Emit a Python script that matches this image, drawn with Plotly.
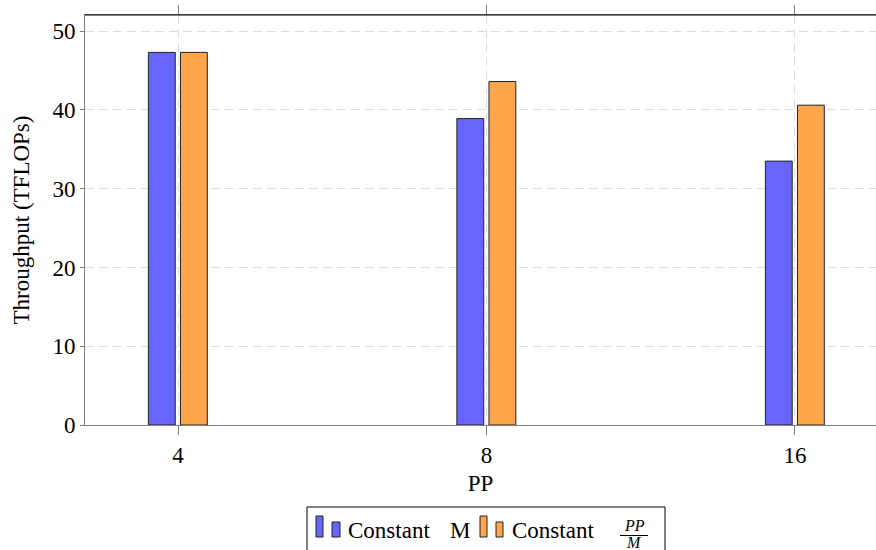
import plotly.graph_objects as go

# Pipeline-parallel sizes and measured throughput (TFLOPs)
pp_sizes = ["4", "8", "16"]
const_m = [47.3, 38.9, 33.5]
const_pp_over_m = [47.3, 43.6, 40.6]

W, H = 876, 550
L, R, T, B = 85, 0, 15, 125
PW, PH = W - L - R, H - T - B

FONT = "Liberation Serif, Times New Roman, serif"
BLUE = "#6666FF"
ORANGE = "#FFA64D"
GRID = "#dcdcdc"
AXIS = "#808080"


def px(x):
    return (x - L) / PW


def py(y):
    return (H - B - y) / PH


xpos = list(range(len(pp_sizes)))

fig = go.Figure()
fig.add_trace(go.Bar(
    x=xpos, y=const_m, name="Constant M",
    width=0.087, offset=-0.096,
    marker=dict(color=BLUE, line=dict(color="#222222", width=1)),
    showlegend=False,
))
fig.add_trace(go.Bar(
    x=xpos, y=const_pp_over_m, name="Constant PP/M",
    width=0.087, offset=0.008,
    marker=dict(color=ORANGE, line=dict(color="#222222", width=1)),
    showlegend=False,
))

fig.update_layout(
    width=W, height=H,
    margin=dict(l=L, r=R, t=T, b=B, pad=0),
    plot_bgcolor="white", paper_bgcolor="white",
    font=dict(family=FONT, size=24, color="black"),
    barmode="overlay",
    xaxis=dict(
        range=[-0.3015, 2.2626],
        tickmode="array", tickvals=xpos, ticktext=pp_sizes,
        showgrid=True, gridcolor=GRID, griddash="9px,5px", gridwidth=1,
        showline=True, linecolor=AXIS, linewidth=1,
        ticks="outside", ticklen=9, tickcolor=AXIS, tickwidth=1,
        mirror="ticks", zeroline=False,
        tickfont=dict(family=FONT, size=23),
        title=dict(text="PP", font=dict(family=FONT, size=23), standoff=8),
    ),
    yaxis=dict(
        range=[0, 52.05],
        tickmode="array", tickvals=[0, 10, 20, 30, 40, 50],
        showgrid=True, gridcolor=GRID, griddash="9px,5px", gridwidth=1,
        showline=True, linecolor=AXIS, linewidth=1,
        ticks="outside", ticklen=4, tickcolor=AXIS, tickwidth=1,
        zeroline=False,
        tickfont=dict(family=FONT, size=23),
        title=dict(text="Throughput (TFLOPs)", font=dict(family=FONT, size=23), standoff=16),
    ),
)

# Black top frame line over the mirrored axis line
fig.add_shape(type="line", xref="paper", yref="paper",
              x0=0, x1=1.01, y0=1, y1=1,
              line=dict(color="black", width=1.2))

# Legend box below the axis
fig.add_shape(type="rect", xref="paper", yref="paper",
              x0=px(307), x1=px(665), y0=py(565), y1=py(507),
              line=dict(color="black", width=1), fillcolor="white")

# Legend bar icons: (left, right, top) in pixels, bottom shared
icons = [
    (316, 323, 516, BLUE), (332, 340, 522, BLUE),
    (480, 487, 516, ORANGE), (496, 503, 522, ORANGE),
]
for x0, x1, top, col in icons:
    fig.add_shape(type="rect", xref="paper", yref="paper",
                  x0=px(x0), x1=px(x1), y0=py(537), y1=py(top),
                  line=dict(color="#222222", width=1), fillcolor=col)


def label(text, x, y, size=23, anchor="left"):
    fig.add_annotation(text=text, xref="paper", yref="paper",
                       x=px(x), y=py(y), xanchor=anchor, yanchor="middle",
                       showarrow=False, font=dict(family=FONT, size=size, color="black"))


label("Constant", 346, 530)
label("M", 472, 530, anchor="right")
label("Constant", 510, 530)
# PP over M fraction
label("<i>PP</i>", 634, 525, size=16, anchor="center")
fig.add_shape(type="line", xref="paper", yref="paper",
              x0=px(620), x1=px(648), y0=py(535.5), y1=py(535.5),
              line=dict(color="black", width=1))
label("<i>M</i>", 634, 542, size=16, anchor="center")

fig.write_html("out.html")
